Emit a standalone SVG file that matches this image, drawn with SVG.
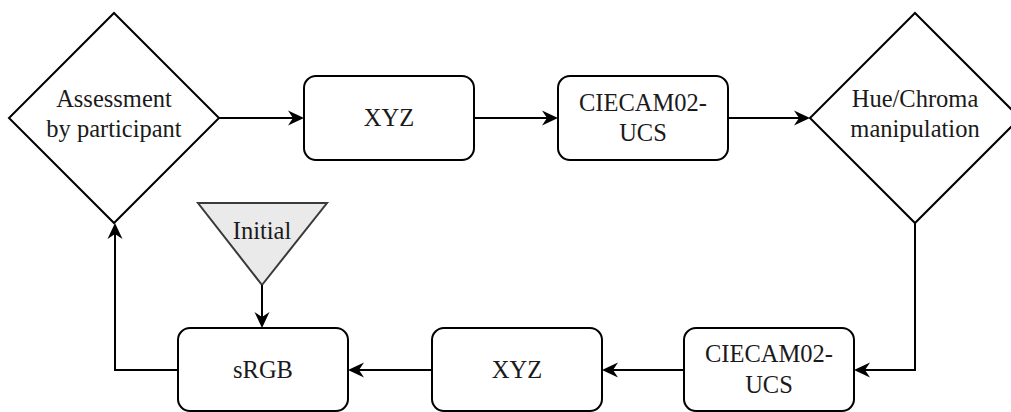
<svg xmlns="http://www.w3.org/2000/svg" width="1011" height="412" viewBox="0 0 1011 412">
<style>
.shape{fill:#ffffff;stroke:#000000;stroke-width:2}
.tri{fill:#eaeaea;stroke:#3a3a3a;stroke-width:2}
.lbl{font-size:24.5px;fill:#1a1a1a;text-anchor:middle}
.edge{fill:none;stroke:#000000;stroke-width:2}
</style>
<defs>
<marker id="arr" markerUnits="userSpaceOnUse" viewBox="-6 -9 19 18" markerWidth="19" markerHeight="18" refX="0" refY="0" orient="auto">
<path d="M11,0 L-5,-7.5 L0,0 L-5,7.5 Z" fill="#000000"/>
</marker>
</defs>
<rect width="1011" height="412" fill="#ffffff"/>
<g font-family="'Liberation Serif', 'DejaVu Serif', 'Times New Roman', serif">
<g id="assessment">
<polygon class="shape" points="114,13 219,118 114,223 9,118"/>
<text class="lbl" x="114" y="107">Assessment</text>
<text class="lbl" x="114" y="137">by participant</text>
</g>
<g id="xyz-top">
<rect class="shape" x="304" y="76" width="170" height="84" rx="12"/>
<text class="lbl" x="389" y="126">XYZ</text>
</g>
<g id="ciecam-top">
<rect class="shape" x="558" y="76" width="170" height="84" rx="12"/>
<text class="lbl" x="643" y="111">CIECAM02-</text>
<text class="lbl" x="643" y="141">UCS</text>
</g>
<g id="huechroma">
<polygon class="shape" points="915,13 1020,118 915,223 810,118"/>
<text class="lbl" x="915" y="107">Hue/Chroma</text>
<text class="lbl" x="915" y="137">manipulation</text>
</g>
<g id="ciecam-bottom">
<rect class="shape" x="684" y="328" width="170" height="83" rx="12"/>
<text class="lbl" x="769" y="362">CIECAM02-</text>
<text class="lbl" x="769" y="393">UCS</text>
</g>
<g id="xyz-bottom">
<rect class="shape" x="432" y="328" width="170" height="83" rx="12"/>
<text class="lbl" x="517" y="378">XYZ</text>
</g>
<g id="srgb">
<rect class="shape" x="178" y="328" width="170" height="83" rx="12"/>
<text class="lbl" x="263" y="378">sRGB</text>
</g>
<g id="initial">
<polygon class="tri" points="198,203 327,203 262,285"/>
<text class="lbl" x="262" y="239">Initial</text>
</g>
</g>
<g id="connectors">
<path class="edge" d="M219,118 H293" marker-end="url(#arr)"/>
<path class="edge" d="M474,118 H547" marker-end="url(#arr)"/>
<path class="edge" d="M728,118 H799" marker-end="url(#arr)"/>
<path class="edge" d="M915,223 V370 H865" marker-end="url(#arr)"/>
<path class="edge" d="M684,370 H613" marker-end="url(#arr)"/>
<path class="edge" d="M432,370 H359" marker-end="url(#arr)"/>
<path class="edge" d="M178,370 H115 V234" marker-end="url(#arr)"/>
<path class="edge" d="M262,285 V317" marker-end="url(#arr)"/>
</g>
</svg>
